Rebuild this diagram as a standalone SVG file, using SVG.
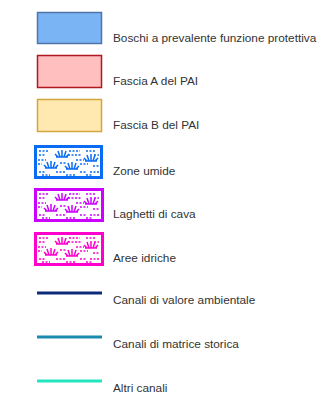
<svg xmlns="http://www.w3.org/2000/svg" xmlns:xlink="http://www.w3.org/1999/xlink" width="334" height="406" viewBox="0 0 334 406">
<style>
.lbl{font-family:"Liberation Sans","DejaVu Sans",sans-serif;font-size:11.8px;fill:#333}
.sw{stroke-width:1.5}
.pat{fill:#fff;stroke-width:3}
.ln{stroke-width:3;fill:none}
.m{fill:none;stroke:currentColor;stroke-width:1.5}
.d{stroke-dasharray:2 1.5}
</style>
<defs>
<g id="tuft" class="m">
<path d="M-6,0 H6 M0,0 V-7 M-2,0 L-4,-6 M2,0 L4,-6 M-4,0 L-7,-3 M4,0 L7,-3"/>
</g>
<g id="marsh">
<use xlink:href="#tuft" transform="translate(26,10)"/>
<use xlink:href="#tuft" transform="translate(15,21)"/>
<use xlink:href="#tuft" transform="translate(36,22)"/>
<use xlink:href="#tuft" transform="translate(55,14)"/>
<g class="m d">
<path d="M3,4 H12 M33,4 H44 M50,4 H60 M3,8 H10 M32,8 H46 M58,8 H63 M2,13 H10 M40,13 H48 M2,17 H6 M24,16 H30 M44,17 H52 M57,19 H63 M3,25 H9 M20,25 H30 M44,25 H50 M54,25 H63 M6,28 H14 M30,28 H40 M50,28 H56"/>
</g>
</g>
</defs>
<g id="n-boschi">
<rect x="37.5" y="12.5" width="64" height="31" fill="#7ab4f5" stroke="#4f74a8" class="sw"/>
<text class="lbl" x="113" y="42">Boschi a prevalente funzione protettiva</text>
</g>
<g id="n-fasciaA">
<rect x="37.5" y="55.5" width="64" height="32" fill="#ffbfbf" stroke="#b0171f" class="sw"/>
<text class="lbl" x="113" y="85">Fascia A del PAI</text>
</g>
<g id="n-fasciaB">
<rect x="37.5" y="99.5" width="64" height="32" fill="#ffe9b0" stroke="#d4a53c" class="sw"/>
<text class="lbl" x="113" y="129">Fascia B del PAI</text>
</g>
<g id="n-zone" style="color:#0a6cf5">
<rect x="35.5" y="146.5" width="66" height="31" class="pat" stroke="#0a6cf5"/>
<use xlink:href="#marsh" transform="translate(36,147)"/>
<text class="lbl" x="113" y="175">Zone umide</text>
</g>
<g id="n-laghetti" style="color:#cc00ff">
<rect x="35.5" y="189.5" width="67" height="31" class="pat" stroke="#cc00ff"/>
<use xlink:href="#marsh" transform="translate(36,190)"/>
<text class="lbl" x="113" y="218">Laghetti di cava</text>
</g>
<g id="n-aree" style="color:#ff00cc">
<rect x="35.5" y="233.5" width="67" height="31" class="pat" stroke="#ff00cc"/>
<use xlink:href="#marsh" transform="translate(36,234)"/>
<text class="lbl" x="113" y="262">Aree idriche</text>
</g>
<g id="connectors">
<line x1="37" y1="293" x2="102" y2="293" stroke="#0d2a7a" class="ln"/>
<line x1="37" y1="337" x2="102" y2="337" stroke="#1a8aaf" class="ln"/>
<line x1="37" y1="381" x2="102" y2="381" stroke="#22e5c0" class="ln"/>
</g>
<g id="n-labels-lines">
<text class="lbl" x="113" y="304">Canali di valore ambientale</text>
<text class="lbl" x="113" y="348">Canali di matrice storica</text>
<text class="lbl" x="113" y="392">Altri canali</text>
</g>
</svg>
